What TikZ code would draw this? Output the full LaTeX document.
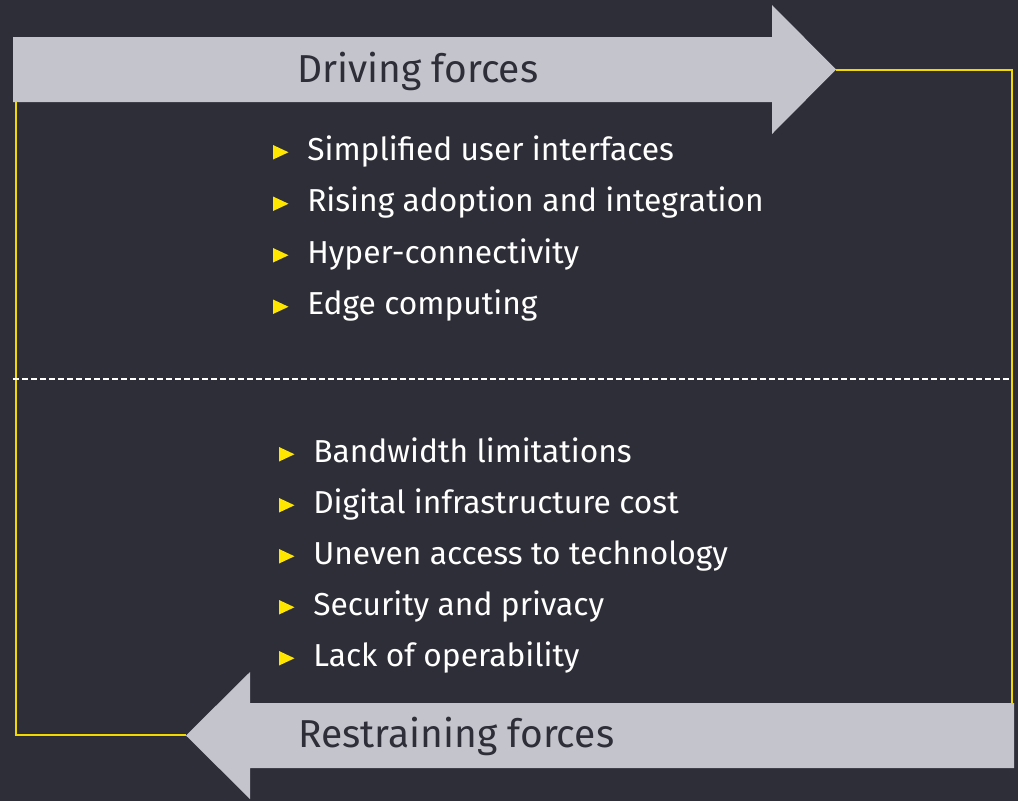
\documentclass[tikz,border=0pt]{standalone}
\usepackage{fontspec}
\setmainfont{Fira Sans}
\usetikzlibrary{positioning}
\definecolor{bgdark}{HTML}{2E2E38}
\definecolor{arrowgray}{HTML}{C4C4CD}
\definecolor{eyyellow}{HTML}{FFE600}
\definecolor{leadline}{HTML}{F0D800}

\begin{document}
\begin{tikzpicture}[
    x=0.75pt, y=-0.75pt,
    bigarrow/.style={fill=arrowgray},
    heading/.style={anchor=base west,inner sep=0pt,text=bgdark,font=\fontsize{29.2}{35}\selectfont},
    item/.style={anchor=base west,inner sep=0pt,text=white,font=\fontsize{23.8}{29}\selectfont},
    marker/.style={fill=eyyellow},
    lead/.style={draw=leadline,line width=1.5pt},
    divider/.style={draw=white,line width=1pt,dash pattern=on 4.5pt off 2.25pt}
]
    % background
    \fill[bgdark] (0,0) rectangle (1018,801);
    \useasboundingbox (0,0) rectangle (1018,801);

    % the two big arrows
    \fill[bigarrow] (13,37) -- (772,37) -- (772,5) -- (836,69.5) -- (772,134) -- (772,102) -- (13,102) -- cycle;
    \fill[bigarrow] (1014,703) -- (250,703) -- (250,672) -- (186,735.5) -- (250,799) -- (250,768) -- (1014,768) -- cycle;
    \coordinate (drivetip) at (836,70);
    \coordinate (restraintip) at (186,735);
    \coordinate (rightfoot) at (1012,703);
    \coordinate (leftfoot) at (16,102);

    % yellow frame
    \draw[lead] (drivetip) -| (rightfoot);
    \draw[lead] (leftfoot) |- (restraintip);

    % divider
    \coordinate (divl) at (13,379);
    \coordinate (divr) at (1011,379);
    \draw[divider] (divl) -- (divr);

    % titles
    \node[heading] (driving) at (297,82) {Driving forces};
    \node[heading] (restraining) at (298,747) {Restraining forces};

    % driving forces list
    \foreach \txt [count=\i] in {Simplified user interfaces, Rising adoption and integration, Hyper-connectivity, Edge computing}
        \node[item] (d\i) at (307,160+51.5*\i-51.5) {\txt};

    % restraining forces list
    \foreach \txt [count=\i] in {Bandwidth limitations, Digital infrastructure cost, Uneven access to technology, Security and privacy, Lack of operability}
        \node[item] (r\i) at (313,462+51*\i-51) {\txt};

    % bullets
    \foreach \n in {d1,d2,d3,d4,r1,r2,r3,r4,r5}
        \fill[marker] ([shift={(-34,-15)}]\n.base west) -- ([shift={(-34,-0.5)}]\n.base west) -- ([shift={(-18.5,-7.75)}]\n.base west) -- cycle;
\end{tikzpicture}
\end{document}
